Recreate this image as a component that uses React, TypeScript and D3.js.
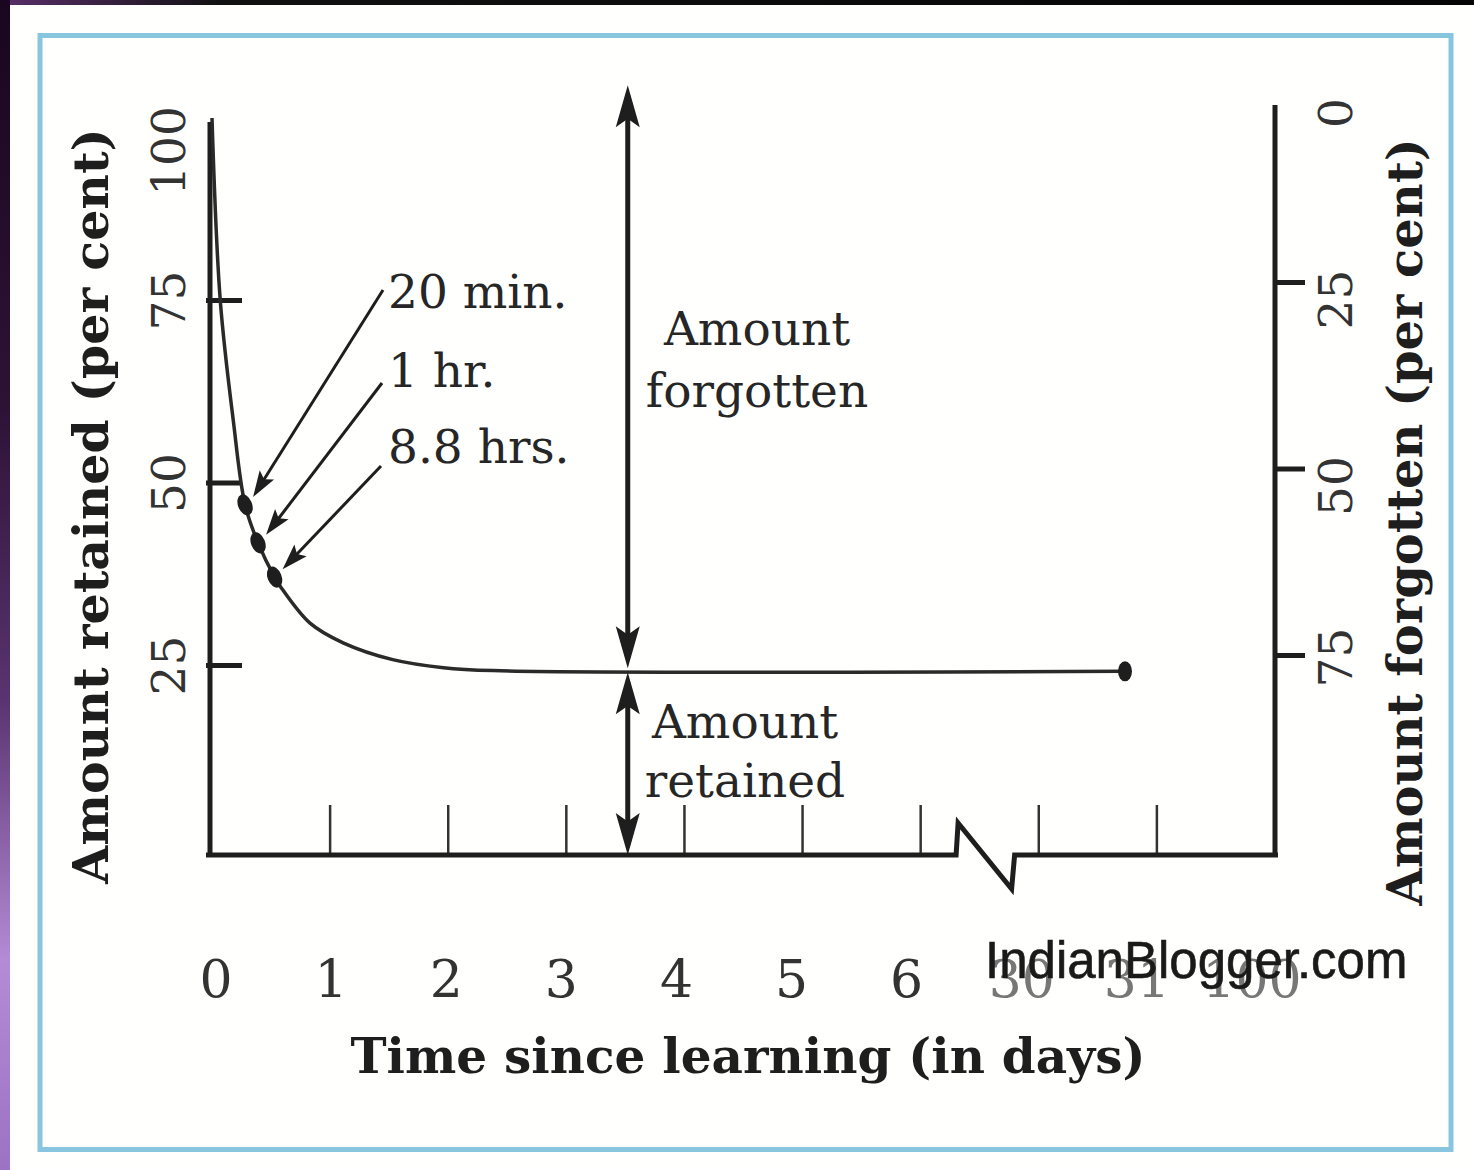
import React from 'react';
import * as d3 from 'd3';

// axis positions: 0..6 are days, then the broken part (30, 31, 100 days)
const dayTicks = [0, 1, 2, 3, 4, 5, 6, 7, 8, 9];
const dayLabels = ['0', '1', '2', '3', '4', '5', '6', '30', '31', '100'];
const retainedTicks = [25, 50, 75, 100];
const forgottenTicks = [0, 25, 50, 75];

// forgetting curve (axis position, per cent retained)
const curveX = [0, 0.07, 0.18, 0.28, 0.39, 0.53, 0.58, 0.83, 1.11, 1.53, 1.96, 2.38, 7.73];
const curveRetained = [100, 75, 58.6, 47, 41.8, 37.1, 35.8, 30.8, 28.1, 25.8, 24.7, 24.3, 24.2];

const markLabels = ['20 min.', '1 hr.', '8.8 hrs.'];
const markX = [0.28, 0.39, 0.53];
const markRetained = [47, 41.8, 37.1];

const splitX = 3.52;
const splitRetained = 24.2;
const splitTop = 104.5;

const W = 1474;
const H = 1170;
const baseY = 855;
const serif = '"DejaVu Serif", serif';
const ink = '#1e1e1e';

// layout of the time labels on the left of the curve
const labelLayout = [
  { x: 388, y: 308, tx: 383, ty: 290 },
  { x: 388, y: 387, tx: 382, ty: 383 },
  { x: 388, y: 463, tx: 381, ty: 466 },
];

const x = d3.scaleLinear().domain([0, 9]).range([212, 1275]);
const y = d3.scaleLinear().domain([0, 100]).range([848, 118]);
const yR = d3.scaleLinear().domain([0, 100]).range([96, 842]);

function head(tx: number, ty: number, ang: number, len: number, half: number) {
  // arrow head with tip at (tx,ty) pointing along ang
  const c = Math.cos(ang), s = Math.sin(ang);
  const p = (a: number, b: number) => [tx - c * a - s * b, ty - s * a + c * b];
  const l = p(len, half), r = p(len, -half), n = p(len * 0.8, 0);
  return `M${tx},${ty}L${l[0]},${l[1]}L${n[0]},${n[1]}L${r[0]},${r[1]}Z`;
}

function DoubleArrow({ xp, y1, y2 }: { xp: number; y1: number; y2: number }) {
  return (
    <g>
      <line x1={xp} x2={xp} y1={y1 + 10} y2={y2 - 10} stroke={ink} strokeWidth={5} />
      <path d={head(xp, y1, -Math.PI / 2, 42, 12)} fill={ink} />
      <path d={head(xp, y2, Math.PI / 2, 42, 12)} fill={ink} />
    </g>
  );
}

export default function App() {
  const pts = curveX.map((d, i) => [d, curveRetained[i]] as [number, number]);
  const line = d3
    .line<[number, number]>()
    .x((d) => x(d[0]))
    .y((d) => y(d[1]))
    .curve(d3.curveCatmullRom.alpha(0.5));

  const bx1 = x(6.3), bx2 = x(6.77);
  const axisPath = `M${x(0) - 6},${baseY}H${bx1}L${bx1 + 2},${baseY - 32}L${bx2},${baseY + 34}L${bx2 + 3},${baseY}H${x(9) + 3}`;

  const sx = x(splitX);
  const sy = y(splitRetained);
  const last = pts[pts.length - 1];

  return (
    <svg width={W} height={H} style={{ position: 'absolute', left: 0, top: 0 }}>
      <defs>
        <linearGradient id="side" x1="0" y1="0" x2="0" y2="1">
          <stop offset="0" stopColor="#1a0620" />
          <stop offset="0.35" stopColor="#2e1236" />
          <stop offset="0.6" stopColor="#5a3470" />
          <stop offset="0.82" stopColor="#b58ad6" />
          <stop offset="1" stopColor="#9c72c4" />
        </linearGradient>
        <linearGradient id="top" x1="0" y1="0" x2="1" y2="0">
          <stop offset="0" stopColor="#5a2f6a" />
          <stop offset="0.15" stopColor="#111" />
          <stop offset="1" stopColor="#050505" />
        </linearGradient>
      </defs>
      <rect width={W} height={H} fill="#fffffd" />
      <rect width={W} height={5} fill="url(#top)" />
      <rect width={10} height={H} fill="url(#side)" />
      <rect x={40} y={35.5} width={1411} height={1114} fill="none" stroke="#88c6e0" strokeWidth={5} />

      {/* left axis */}
      <line x1={x(0) - 2} x2={x(0) - 2} y1={y(100) + 4} y2={baseY} stroke={ink} strokeWidth={5} />
      {retainedTicks.filter((t) => t < 100).map((t) => (
        <line key={t} x1={x(0) - 6} x2={x(0) + 30} y1={y(t)} y2={y(t)} stroke={ink} strokeWidth={5} />
      ))}
      {retainedTicks.map((t) => (
        <text
          key={t}
          transform={`translate(185,${t === 100 ? y(t) + 33 : y(t)}) rotate(-90)`}
          textAnchor="middle"
          fontFamily={serif}
          fontSize={47}
          fill="#333"
        >
          {t}
        </text>
      ))}
      <text
        transform="translate(108,506) rotate(-90)"
        textAnchor="middle"
        fontFamily={serif}
        fontWeight="bold"
        fontSize={49}
        fill={ink}
      >
        Amount retained (per cent)
      </text>

      {/* right axis */}
      <line x1={x(9)} x2={x(9)} y1={yR(1.2)} y2={baseY} stroke={ink} strokeWidth={5} />
      {forgottenTicks.filter((t) => t > 0).map((t) => (
        <line key={t} x1={x(9)} x2={x(9) + 30} y1={yR(t)} y2={yR(t)} stroke={ink} strokeWidth={5} />
      ))}
      {forgottenTicks.map((t) => (
        <text
          key={t}
          transform={`translate(1352,${yR(t) + (t === 75 ? 2 : 17)}) rotate(-90)`}
          textAnchor="middle"
          fontFamily={serif}
          fontSize={47}
          fill="#333"
        >
          {t}
        </text>
      ))}
      <text
        transform="translate(1422,522) rotate(-90)"
        textAnchor="middle"
        fontFamily={serif}
        fontWeight="bold"
        fontSize={48}
        fill={ink}
      >
        Amount forgotten (per cent)
      </text>

      {/* x axis */}
      {dayTicks.slice(1, 9).map((t) => (
        <line key={t} x1={x(t)} x2={x(t)} y1={baseY} y2={baseY - 50} stroke="#333" strokeWidth={2.5} />
      ))}
      <path d={axisPath} fill="none" stroke={ink} strokeWidth={5} strokeLinejoin="miter" />
      {dayTicks.map((t, i) => (
        <text
          key={t}
          x={x(t) + 4 - 3 * i}
          y={997}
          textAnchor="middle"
          fontFamily={serif}
          fontSize={52}
          fill={i > 6 ? '#777' : '#333'}
        >
          {dayLabels[i]}
        </text>
      ))}
      <text x={748} y={1073} textAnchor="middle" fontFamily={serif} fontWeight="bold" fontSize={48.5} fill={ink}>
        Time since learning (in days)
      </text>

      {/* curve */}
      <path d={line(pts) || ''} fill="none" stroke="#2a2a2a" strokeWidth={3.5} />
      <ellipse cx={x(last[0])} cy={y(last[1])} rx={7} ry={10} fill={ink} />
      {markX.map((m, i) => (
        <ellipse
          key={i}
          transform={`translate(${x(m)},${y(markRetained[i])}) rotate(-22)`}
          rx={7}
          ry={11}
          fill={ink}
        />
      ))}

      {/* time labels with arrows */}
      {markLabels.map((lab, i) => {
        const L = labelLayout[i];
        const px = x(markX[i]) + 8;
        const py = y(markRetained[i]) - 8;
        const ang = Math.atan2(py - L.ty, px - L.tx);
        return (
          <g key={lab}>
            <line x1={L.tx} y1={L.ty} x2={px - Math.cos(ang) * 14} y2={py - Math.sin(ang) * 14} stroke={ink} strokeWidth={3} />
            <path d={head(px, py, ang, 26, 8.5)} fill={ink} />
            <text x={L.x} y={L.y} fontFamily={serif} fontSize={47} fill="#262626">
              {lab}
            </text>
          </g>
        );
      })}

      {/* forgotten / retained split */}
      <DoubleArrow xp={sx} y1={y(splitTop)} y2={sy - 3} />
      <DoubleArrow xp={sx} y1={sy + 1} y2={baseY} />
      <text textAnchor="middle" fontFamily={serif} fontSize={47} fill="#262626">
        <tspan x={757} y={345}>Amount</tspan>
        <tspan x={757} y={407}>forgotten</tspan>
      </text>
      <text textAnchor="middle" fontFamily={serif} fontSize={47} fill="#262626">
        <tspan x={745} y={738}>Amount</tspan>
        <tspan x={745} y={797}>retained</tspan>
      </text>

      <text x={985} y={978} fontFamily='"Liberation Sans", Arial, sans-serif' fontSize={51} fill="#1a1a1a" stroke="#1a1a1a" strokeWidth={0.6}>
        IndianBlogger.com
      </text>
    </svg>
  );
}
